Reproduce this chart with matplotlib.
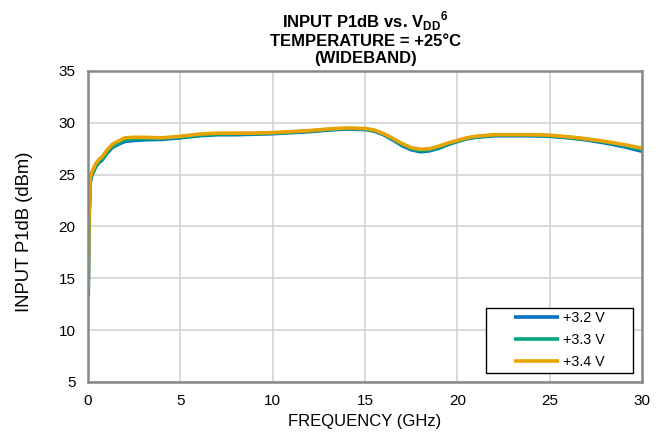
import matplotlib.pyplot as plt
from matplotlib.patches import Rectangle

plt.rcParams['font.family'] = ['Liberation Sans', 'DejaVu Sans']
plt.rcParams['mathtext.fontset'] = 'custom'
plt.rcParams['mathtext.rm'] = 'Liberation Sans'
plt.rcParams['mathtext.bf'] = 'Liberation Sans:bold'

freq = [0.01, 0.05, 0.12, 0.2, 0.4, 0.6, 0.7, 0.8, 1.0, 1.3, 1.6, 2.0, 2.5, 3.0, 4.0,
        5.0, 6.0, 7.0, 8.0, 9.0, 10.0, 11.0, 12.0, 13.0, 14.0, 15.0, 15.5, 16.0, 16.5,
        17.0, 17.5, 18.0, 18.5, 19.0, 19.5, 20.0, 20.5, 21.0, 22.0, 23.0, 24.0, 25.0,
        26.0, 27.0, 28.0, 29.0, 30.0]

p1db_32 = [13.3, 20.5, 24.3, 24.9, 25.7, 26.2, 26.3, 26.5, 27.0, 27.6, 27.9, 28.2, 28.3, 28.35, 28.4,
           28.55, 28.75, 28.85, 28.85, 28.9, 28.95, 29.05, 29.15, 29.3, 29.4, 29.35, 29.2, 28.85, 28.35,
           27.8, 27.4, 27.2, 27.3, 27.55, 27.9, 28.2, 28.45, 28.6, 28.75, 28.75, 28.75, 28.7,
           28.55, 28.35, 28.05, 27.7, 27.25]

p1db_33 = [13.8, 20.8, 24.5, 25.0, 25.8, 26.3, 26.4, 26.6, 27.1, 27.7, 28.0, 28.35, 28.45, 28.45, 28.5,
           28.6, 28.8, 28.9, 28.95, 28.95, 29.0, 29.1, 29.2, 29.35, 29.45, 29.4, 29.25, 28.9, 28.4,
           27.9, 27.5, 27.3, 27.4, 27.65, 27.95, 28.25, 28.5, 28.65, 28.8, 28.8, 28.8, 28.75,
           28.6, 28.4, 28.15, 27.8, 27.4]

p1db_34 = [14.0, 21.0, 24.7, 25.2, 26.0, 26.5, 26.6, 26.8, 27.3, 27.9, 28.2, 28.55, 28.6, 28.6, 28.55,
           28.7, 28.9, 29.0, 29.0, 29.0, 29.05, 29.15, 29.25, 29.4, 29.5, 29.45, 29.3, 28.95, 28.5,
           28.0, 27.6, 27.45, 27.5, 27.75, 28.05, 28.3, 28.55, 28.7, 28.85, 28.85, 28.85, 28.8,
           28.65, 28.45, 28.2, 27.9, 27.55]

series = [('+3.2 V', p1db_32, '#0071BC'),
          ('+3.3 V', p1db_33, '#00A57E'),
          ('+3.4 V', p1db_34, '#E9A300')]


def main():
  fig = plt.figure(figsize=(6.62, 4.38), dpi=100)
  ax = fig.add_axes([0.133, 0.128, 0.837, 0.71])

  for label, values, color in series:
    ax.plot(freq, values, color=color, lw=2.6, label=label, solid_capstyle='butt')

  ax.set_xlim(0, 30)
  ax.set_ylim(5, 35)
  ax.set_xticks(range(0, 31, 5))
  ax.set_yticks(range(5, 36, 5))
  ax.grid(True, color='#d0d0d0', lw=1.1)
  ax.set_axisbelow(True)
  for spine in ax.spines.values():
    spine.set_color('#888888')
    spine.set_linewidth(1.8)
  ax.tick_params(length=0, labelsize=11, pad=9)

  ax.set_xlabel('FREQUENCY (GHz)', fontsize=12, labelpad=4)
  ax.set_ylabel('INPUT P1dB (dBm)', fontsize=13.3)
  ax.yaxis.set_label_coords(-0.099, 0.483)
  ax.set_title('INPUT P1dB vs. V$_{\\mathbf{DD}}$$^{\\mathbf{6}}$\nTEMPERATURE = +25°C\n(WIDEBAND)',
               fontsize=12, fontweight='bold', linespacing=1.12, pad=6)

  # legend frame drawn separately so the entries sit centred in a wide box
  ax.add_patch(Rectangle((0.718, 0.029), 0.266, 0.209, transform=ax.transAxes,
                         facecolor='white', edgecolor='black', lw=1.0, zorder=5))
  leg = ax.legend(loc='center', bbox_to_anchor=(0.851, 0.1335), fontsize=10.3, frameon=False,
                  handlelength=3.15, handletextpad=0.3, borderpad=0.2, labelspacing=0.56)
  leg.set_zorder(6)

  fig.savefig('out.png', dpi=100)


if __name__ == "__main__":
  main()
